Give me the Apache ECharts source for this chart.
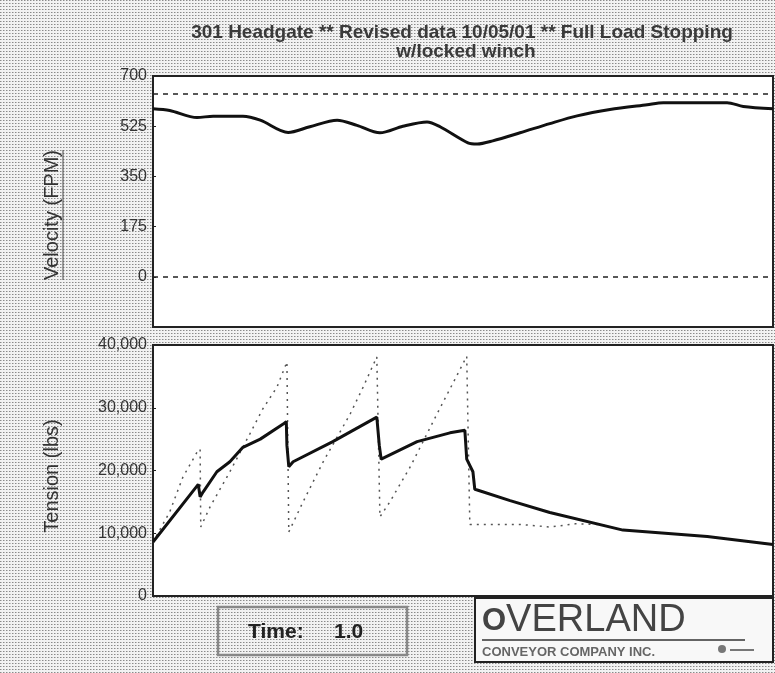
<!DOCTYPE html>
<html>
<head>
<meta charset="utf-8">
<script src="https://cdn.jsdelivr.net/npm/echarts@6/dist/echarts.min.js"></script>
<style>
html,body{margin:0;padding:0;background:#fff;}
#chart{width:775px;height:673px;}
</style>
</head>
<body>
<div id="chart"></div>
<script>
// ---- data ----
const titleLines = ['301 Headgate ** Revised data 10/05/01 ** Full Load Stopping', 'w/locked winch'];
const velocityTicks = [0, 175, 350, 525, 700];
const tensionTicks = [0, 10000, 20000, 30000, 40000];
const velocityLimits = [638, 0];
const velocityName = 'Velocity (FPM)';
const tensionName = 'Tension (lbs)';

const timeV = [0, 2.7, 7.1, 9.7, 14.5, 17.3, 21.8, 25.3, 29.7, 32.9, 36.6, 40.3, 44.2, 46.3, 50.8, 52.3, 54.8, 59.2, 64.0, 68.4, 73.7, 79.7, 82.3, 92.6, 95.2, 100];
const velocity = [586, 580, 555, 560, 560, 546, 503, 523, 546, 528, 502, 525, 540, 523, 467, 463, 474, 502, 534, 561, 583, 600, 607, 607, 594, 586];

const timeT = [0, 7.3, 7.6, 8.1, 10.3, 12.4, 14.5, 17.3, 21.0, 21.5, 21.6, 21.9, 22.6, 29.0, 36.1, 36.5, 36.8, 37.1, 42.6, 47.9, 50.3, 50.6, 51.6, 51.9, 52.3, 57.6, 64.0, 75.8, 89.4, 100];
const tension = [8600, 17800, 15800, 16600, 19800, 21400, 23700, 25000, 27400, 27800, 24000, 20600, 21400, 24600, 28500, 24000, 21800, 22100, 24600, 26000, 26400, 21800, 19800, 17000, 16900, 15200, 13300, 10500, 9500, 8200];

const timeD = [0, 2.7, 4.8, 7.1, 7.6, 7.7, 9.2, 12.4, 15.6, 17.7, 20.0, 21.6, 21.9, 24.2, 27.4, 31.8, 33.9, 36.1, 36.6, 38.2, 41.5, 45.8, 47.9, 50.6, 51.1, 59.2, 64.0, 68.1, 72.1, 75.8, 89.4, 100];
const tensionD = [8600, 13400, 18900, 22900, 23400, 11000, 14200, 19800, 25800, 29800, 33300, 37300, 10200, 15000, 21300, 29000, 33300, 38100, 12600, 15000, 20600, 29000, 33000, 38200, 11400, 11400, 11000, 11500, 11400, 10500, 9500, 8200];

const timeLabel = 'Time:';
const timeValue = '1.0';
const logoName = 'OVERLAND';
const logoSub = 'CONVEYOR COMPANY INC.';

// ---- dithered background pattern ----
const pc = document.createElement('canvas');
pc.width = 3; pc.height = 3;
const pctx = pc.getContext('2d');
pctx.fillStyle = '#f2f2f2'; pctx.fillRect(0, 0, 3, 3);
pctx.fillStyle = '#8a8a8a'; pctx.fillRect(0, 0, 1, 1);
pctx.fillStyle = '#c0c0c0'; pctx.fillRect(1, 0, 1, 1);

const zip = (xs, ys) => xs.map((x, i) => [x, ys[i]]);
const FONT = '"Liberation Sans", Arial, sans-serif';

const chart = echarts.init(document.getElementById('chart'), null, {renderer: 'canvas'});

const axisCommon = {
  axisLine: {show: false},
  splitLine: {show: false},
  axisTick: {show: true, inside: true, length: 3, lineStyle: {color: '#222', width: 1}},
  axisLabel: {color: '#333', fontSize: 16, fontFamily: FONT, margin: 6}
};

chart.setOption({
  backgroundColor: {image: pc, repeat: 'repeat'},
  animation: false,
  grid: [
    {left: 153, top: 76, width: 620, height: 251, show: true, backgroundColor: '#fff', borderColor: '#222', borderWidth: 2},
    {left: 153, top: 345, width: 620, height: 251, show: true, backgroundColor: '#fff', borderColor: '#222', borderWidth: 2}
  ],
  xAxis: [
    {type: 'value', gridIndex: 0, min: 0, max: 100, show: false},
    {type: 'value', gridIndex: 1, min: 0, max: 100, show: false}
  ],
  yAxis: [
    Object.assign({}, axisCommon, {
      type: 'value', gridIndex: 0, min: -175, max: 700, interval: 175,
      axisLabel: Object.assign({}, axisCommon.axisLabel, {
        formatter: v => velocityTicks.indexOf(v) >= 0 ? String(v) : ''
      })
    }),
    Object.assign({}, axisCommon, {
      type: 'value', gridIndex: 1, min: 0, max: 40000, interval: 10000,
      axisLabel: Object.assign({}, axisCommon.axisLabel, {
        formatter: v => tensionTicks.indexOf(v) >= 0 ? v.toLocaleString('en-US') : ''
      })
    })
  ],
  series: [
    {
      type: 'line', xAxisIndex: 0, yAxisIndex: 0, data: zip(timeV, velocity),
      showSymbol: false, smooth: 0.3, lineStyle: {color: '#111', width: 3},
      markLine: {
        silent: true, symbol: 'none', label: {show: false},
        lineStyle: {color: '#222', type: [5, 5], width: 1.5},
        data: velocityLimits.map(v => ({yAxis: v}))
      }
    },
    {
      type: 'line', xAxisIndex: 1, yAxisIndex: 1, data: zip(timeD, tensionD),
      showSymbol: false, lineStyle: {color: '#555', width: 1.5, type: [2, 5]}
    },
    {
      type: 'line', xAxisIndex: 1, yAxisIndex: 1, data: zip(timeT, tension),
      showSymbol: false, lineStyle: {color: '#111', width: 3}
    }
  ],
  graphic: [
    {type: 'text', x: 462, y: 33, style: {text: titleLines[0], fill: '#3a3a3a', font: '600 19px ' + FONT, textAlign: 'center', textVerticalAlign: 'middle'}},
    {type: 'text', x: 466, y: 52, style: {text: titleLines[1], fill: '#3a3a3a', font: '600 19px ' + FONT, textAlign: 'center', textVerticalAlign: 'middle'}},
    {type: 'text', x: 52, y: 215, rotation: Math.PI / 2, style: {text: velocityName, fill: '#333', font: '20px ' + FONT, textAlign: 'center', textVerticalAlign: 'middle'}},
    {type: 'line', shape: {x1: 63, y1: 150, x2: 63, y2: 280}, style: {stroke: '#444', lineWidth: 1}},
    {type: 'text', x: 52, y: 476, rotation: Math.PI / 2, style: {text: tensionName, fill: '#333', font: '20px ' + FONT, textAlign: 'center', textVerticalAlign: 'middle'}},
    {type: 'rect', shape: {x: 218, y: 607, width: 189, height: 48}, style: {fill: 'none', stroke: '#888', lineWidth: 2.5}},
    {type: 'text', x: 248, y: 632, style: {text: timeLabel, fill: '#222', font: 'bold 21px ' + FONT, textVerticalAlign: 'middle'}},
    {type: 'text', x: 334, y: 632, style: {text: timeValue, fill: '#222', font: 'bold 21px ' + FONT, textVerticalAlign: 'middle'}},
    {type: 'rect', shape: {x: 475, y: 598, width: 298, height: 64}, style: {fill: '#f8f8f8', stroke: '#222', lineWidth: 2}},
    {type: 'text', x: 482, y: 621, style: {
      text: '{s|' + logoName.charAt(0) + '}{b|' + logoName.slice(1) + '}',
      textVerticalAlign: 'middle',
      rich: {
        s: {fontSize: 31, fontFamily: FONT, fill: '#444', fontWeight: 'bold'},
        b: {fontSize: 38, fontFamily: FONT, fill: '#444'}
      }
    }},
    {type: 'line', shape: {x1: 482, y1: 640, x2: 745, y2: 640}, style: {stroke: '#333', lineWidth: 1.5}},
    {type: 'text', x: 482, y: 652, style: {text: logoSub, fill: '#666', font: 'bold 13px ' + FONT, textVerticalAlign: 'middle'}},
    {type: 'circle', shape: {cx: 722, cy: 649, r: 4}, style: {fill: '#777'}},
    {type: 'line', shape: {x1: 730, y1: 650, x2: 754, y2: 650}, style: {stroke: '#777', lineWidth: 2}}
  ]
});
</script>
</body>
</html>
